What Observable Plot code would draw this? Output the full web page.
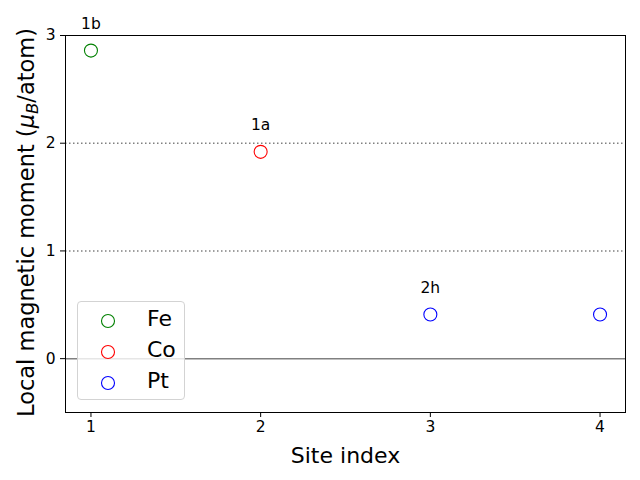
<!DOCTYPE html>
<html>
<head>
<meta charset="utf-8">
<script src="https://cdn.jsdelivr.net/npm/d3@7"></script>
<script src="https://cdn.jsdelivr.net/npm/@observablehq/plot@0.6"></script>
<style>
  html, body { margin: 0; padding: 0; background: white; }
  #wrap { position: relative; width: 640px; height: 480px; font-family: "DejaVu Sans", sans-serif; }
  #legend { position: absolute; left: 77px; top: 301px; width: 108px; height: 99px;
    border: 1px solid #d3d3d3; border-radius: 4px; background: rgba(255,255,255,0.8); box-sizing: border-box; }
  .entry { position: absolute; left: 0; height: 30px; width: 100%; font-size: 22px; color: black; }
  .entry svg { position: absolute; left: 22px; top: 8px; }
  .entry span { position: absolute; left: 69px; top: 1px; }
</style>
</head>
<body>
<div id="wrap"></div>
<script>
const elements = ["Fe", "Co", "Pt", "Pt"];
const siteIndex = [1, 2, 3, 4];
const moment = [2.86, 1.92, 0.41, 0.41];
const siteLabels = ["1b", "1a", "2h", ""];
const legendNames = ["Fe", "Co", "Pt"];
const legendColors = ["green", "red", "blue"];
const xTicks = [1, 2, 3, 4];
const yTicks = [0, 1, 2, 3];
const guideLevels = [1, 2];

const colorOf = Object.fromEntries(legendNames.map((n, i) => [n, legendColors[i]]));
const data = siteIndex.map((s, i) => ({site: s, m: moment[i], el: elements[i], label: siteLabels[i]}));

const plot = Plot.plot({
  width: 640, height: 480,
  marginLeft: 65, marginRight: 15, marginTop: 35, marginBottom: 68,
  style: {fontFamily: "DejaVu Sans, sans-serif", fontSize: "15.5px", color: "black", background: "white"},
  x: {domain: [0.85, 4.15]},
  y: {domain: [-0.5, 3]},
  marks: [
    Plot.ruleY(guideLevels, {stroke: "gray", strokeWidth: 1.5, strokeDasharray: "1.5,2.5"}),
    Plot.ruleY([0], {stroke: "gray", strokeWidth: 1.5}),
    Plot.dot(data, {x: "site", y: "m", r: 6.5, stroke: d => colorOf[d.el], strokeWidth: 1.1, fill: "none"}),
    Plot.text(data.filter(d => d.label), {x: "site", y: "m", text: "label", dy: -26.5, fontSize: 15.5, fill: "black"}),
    Plot.frame({stroke: "black", strokeWidth: 1}),
    Plot.axisX({ticks: xTicks, tickSize: 5, tickPadding: 3, fontSize: 15.5, label: null, tickFormat: d3.format("d")}),
    Plot.axisX({ticks: [], tickSize: 0, label: "Site index", labelAnchor: "center", labelArrow: "none", labelOffset: 50, fontSize: 22}),
    Plot.axisY({ticks: yTicks, tickSize: 5, tickPadding: 5, fontSize: 15.5, label: null, tickFormat: d3.format("d")})
  ]
});

const wrap = document.getElementById("wrap");
wrap.appendChild(plot);

// y-axis label with mathtext-like subscript
const svg = d3.select(plot.tagName.toLowerCase() === "svg" ? plot : plot.querySelector("svg"));
const yl = svg.append("text")
  .attr("transform", "translate(34,222.5) rotate(-90)")
  .attr("text-anchor", "middle")
  .attr("font-size", 22.5)
  .attr("font-family", "DejaVu Sans, sans-serif")
  .attr("fill", "black");
yl.append("tspan").text("Local magnetic moment (");
yl.append("tspan").attr("font-style", "italic").text("μ");
yl.append("tspan").attr("font-style", "italic").attr("font-size", 16.5).attr("dy", 4).text("B");
yl.append("tspan").attr("dy", -4).text("/atom)");

// legend
const legend = document.createElement("div");
legend.id = "legend";
legendNames.forEach((n, i) => {
  const e = document.createElement("div");
  e.className = "entry";
  e.style.top = (3 + i * 31) + "px";
  e.innerHTML = `<svg width="16" height="16"><circle cx="8" cy="8" r="6.5" fill="none" stroke="${legendColors[i]}" stroke-width="1.1"/></svg><span>${n}</span>`;
  legend.appendChild(e);
});
wrap.appendChild(legend);
</script>
</body>
</html>
